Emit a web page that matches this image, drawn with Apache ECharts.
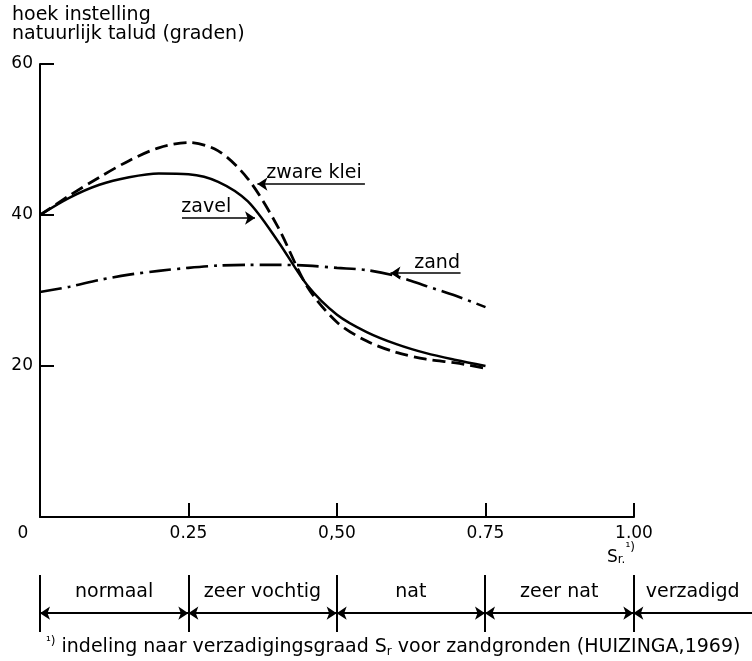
<!DOCTYPE html>
<html>
<head>
<meta charset="utf-8">
<script src="https://cdn.jsdelivr.net/npm/echarts@6/dist/echarts.min.js"></script>
<style>
  html, body { margin: 0; padding: 0; background: #fff; }
  #chart { width: 752px; height: 661px; }
</style>
</head>
<body>
<div id="chart"></div>
<script>
// verzadigingsgraad Sr
const sr = [0, 0.05, 0.10, 0.15, 0.20, 0.25, 0.30, 0.35, 0.40, 0.45, 0.50, 0.55, 0.60, 0.65, 0.70, 0.75];
const zwareKlei = [40, 42.6, 45.0, 47.2, 48.9, 49.6, 48.5, 44.8, 38.5, 30.5, 25.8, 23.3, 21.8, 20.9, 20.4, 19.7];
const zavel     = [40, 42.3, 44.0, 45.0, 45.5, 45.4, 44.4, 41.8, 36.6, 30.7, 26.8, 24.5, 22.9, 21.7, 20.8, 20.0];
const zand      = [29.8, 30.5, 31.4, 32.1, 32.6, 33.0, 33.3, 33.4, 33.4, 33.3, 33.0, 32.7, 31.9, 30.6, 29.3, 27.8];

const xTickValues = [0, 0.25, 0.5, 0.75, 1.0];
const xTickLabels = ['0', '0.25', '0,50', '0.75', '1.00'];

// labels bij de curven: [sr, hoek, tekst] en pijlen [van, naar]
const noteLabels = [[0.381, 45.6, 'zware klei'], [0.238, 41.0, 'zavel'], [0.630, 33.7, 'zand']];
const noteArrows = [
    [[0.547, 44.1], [0.366, 44.1]],
    [[0.239, 39.6], [0.362, 39.6]],
    [[0.708, 32.3], [0.590, 32.3]]
];

// indeling naar verzadigingsgraad
const classBounds = [0, 0.25, 0.5, 0.75, 1.0];
const classLabels = ['normaal', 'zeer vochtig', 'nat', 'zeer nat', 'verzadigd'];
const classEnd = 1.2;

const FONT = 'DejaVu Sans';
const chart = echarts.init(document.getElementById('chart'), null, { renderer: 'canvas' });

const toPairs = (ys) => sr.map((x, i) => [x, ys[i]]);

const bandLines = [];
classBounds.forEach(b => bandLines.push({ coords: [[b, 0], [b, 1]], symbol: ['none', 'none'] }));
for (let i = 0; i < classBounds.length - 1; i++) {
    bandLines.push({ coords: [[classBounds[i], 0.33], [classBounds[i + 1], 0.33]], symbol: ['arrow', 'arrow'] });
}
bandLines.push({ coords: [[classEnd, 0.33], [classBounds[classBounds.length - 1], 0.33]], symbol: ['none', 'arrow'] });

const bandText = classLabels.map((t, i) => {
    const a = classBounds[i], b = i + 1 < classBounds.length ? classBounds[i + 1] : classEnd;
    return { value: [(a + b) / 2, 0.70], name: t };
});

chart.setOption({
    animation: false,
    textStyle: { fontFamily: FONT, color: '#000' },
    grid: [
        { left: 40, top: 64, width: 594, height: 453 },
        { left: 40, right: 0, top: 575, height: 57 }
    ],
    xAxis: [{
        gridIndex: 0, type: 'value', min: 0, max: 1, interval: 0.25,
        axisLine: { lineStyle: { color: '#000', width: 2 } },
        axisTick: { inside: true, length: 14, lineStyle: { color: '#000', width: 2 } },
        splitLine: { show: false },
        axisLabel: {
            margin: 8, fontSize: 17, color: '#000', fontFamily: FONT,
            formatter: v => {
                const i = xTickValues.findIndex(t => Math.abs(t - v) < 1e-6);
                const s = i >= 0 ? xTickLabels[i] : '';
                return v === 0 ? '{z|' + s + '}' : s;
            },
            rich: { z: { fontSize: 17, fontFamily: FONT, color: '#000', padding: [0, 34, 0, 0] } }
        }
    }, {
        gridIndex: 1, type: 'value', min: 0, max: classEnd, show: false
    }],
    yAxis: [{
        gridIndex: 0, type: 'value', min: 0, max: 60, interval: 20,
        axisLine: { show: true, lineStyle: { color: '#000', width: 2 } },
        axisTick: { show: true, inside: true, length: 14, lineStyle: { color: '#000', width: 2 } },
        splitLine: { show: false },
        axisLabel: {
            margin: 7, fontSize: 17, color: '#000', fontFamily: FONT,
            formatter: v => v === 0 ? '' : String(v)
        }
    }, {
        gridIndex: 1, type: 'value', min: 0, max: 1, show: false
    }],
    series: [
        {
            name: 'zware klei', type: 'line', data: toPairs(zwareKlei), smooth: 0.3, symbol: 'none',
            lineStyle: { color: '#000', width: 2.8, type: [13, 6] }
        },
        {
            name: 'zavel', type: 'line', data: toPairs(zavel), smooth: 0.3, symbol: 'none',
            lineStyle: { color: '#000', width: 2.5 }
        },
        {
            name: 'zand', type: 'line', data: toPairs(zand), smooth: 0.3, symbol: 'none',
            lineStyle: { color: '#000', width: 2.6, type: [22, 6, 3, 6] }
        },
        {
            type: 'lines', coordinateSystem: 'cartesian2d', xAxisIndex: 0, yAxisIndex: 0,
            symbol: ['none', 'arrow'], symbolSize: 10,
            lineStyle: { color: '#000', width: 1.6, opacity: 1 },
            data: noteArrows.map(c => ({ coords: c }))
        },
        {
            type: 'scatter', xAxisIndex: 0, yAxisIndex: 0, symbolSize: 0,
            itemStyle: { opacity: 1 },
            data: noteLabels.map(n => ({ value: [n[0], n[1]], name: n[2] })),
            label: { show: true, position: 'right', distance: 0, formatter: '{b}', fontSize: 19, fontFamily: FONT, color: '#000' }
        },
        {
            type: 'lines', coordinateSystem: 'cartesian2d', xAxisIndex: 1, yAxisIndex: 1,
            symbolSize: 10,
            lineStyle: { color: '#000', width: 2, opacity: 1 },
            data: bandLines
        },
        {
            type: 'scatter', xAxisIndex: 1, yAxisIndex: 1, symbolSize: 0,
            itemStyle: { opacity: 1 },
            data: bandText,
            label: { show: true, position: 'inside', formatter: '{b}', fontSize: 19, fontFamily: FONT, color: '#000' }
        }
    ],
    graphic: [
        {
            type: 'text', left: 12, top: 6,
            style: { text: 'hoek instelling\nnatuurlijk talud (graden)', font: '19px ' + FONT, fill: '#000', lineHeight: 19 }
        },
        {
            type: 'text', left: 607, top: 542,
            style: {
                text: '{s|S}{sub|r.}{sup|¹)}', fill: '#000',
                rich: {
                    s: { fontSize: 17, fontFamily: FONT, verticalAlign: 'bottom', lineHeight: 20 },
                    sub: { fontSize: 12, fontFamily: FONT, verticalAlign: 'bottom', lineHeight: 16 },
                    sup: { fontSize: 12, fontFamily: FONT, verticalAlign: 'top', lineHeight: 24 }
                }
            }
        },
        {
            type: 'text', left: 46, top: 636,
            style: {
                text: '{sup|¹)} indeling naar verzadigingsgraad S{sub|r} voor zandgronden (HUIZINGA,1969)',
                font: '19px ' + FONT, fill: '#000',
                rich: {
                    sup: { fontSize: 12, fontFamily: FONT, verticalAlign: 'top', lineHeight: 22 },
                    sub: { fontSize: 12, fontFamily: FONT, verticalAlign: 'bottom', lineHeight: 18 }
                }
            }
        }
    ]
});
</script>
</body>
</html>
